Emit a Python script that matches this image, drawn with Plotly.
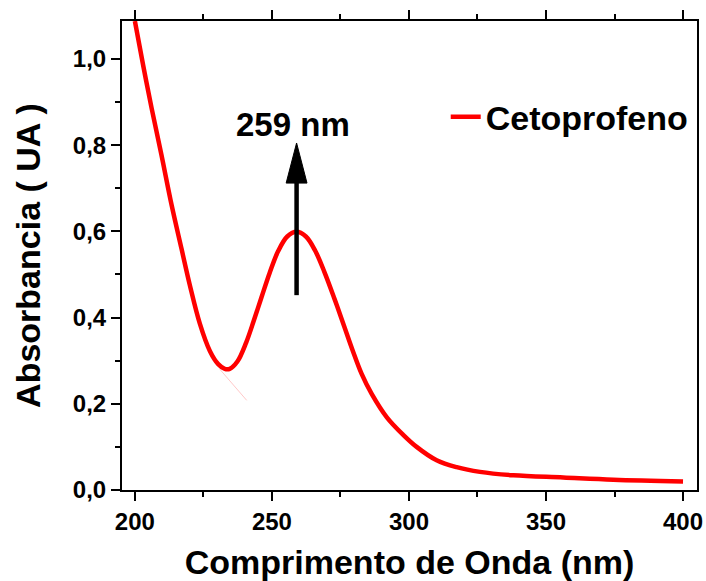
import plotly.graph_objects as go

# UV-Vis absorption spectrum of cetoprofeno
wavelength_nm = [200, 203, 206.1, 209.7, 213.4, 217, 220.1, 223.7, 227.4, 230.4,
                 232.8, 234.6, 237.4, 240.6, 243.4, 246.2, 249.2, 252.2, 255.6, 259,
                 262.4, 265.8, 269.2, 272.8, 276.2, 279.4, 282.7, 286.4, 292, 297.9,
                 302.8, 310.1, 317.4, 325.9, 338.1, 356.3, 374.6, 400]
absorbance = [1.088, 0.986, 0.886, 0.777, 0.661, 0.560, 0.474, 0.386, 0.322, 0.292,
              0.281, 0.281, 0.298, 0.342, 0.393, 0.447, 0.504, 0.553, 0.588, 0.599,
              0.588, 0.555, 0.505, 0.444, 0.383, 0.325, 0.270, 0.223, 0.168, 0.128,
              0.100, 0.069, 0.053, 0.042, 0.034, 0.029, 0.024, 0.020]

# faint stray segment near the local minimum
stray_nm = [231, 240.8]
stray_abs = [0.28, 0.208]

x_ticks = [200, 250, 300, 350, 400]
y_ticks = [0.0, 0.2, 0.4, 0.6, 0.8, 1.0]

peak_nm = 259
peak_label = "259 nm"
arrow_tail = 0.452
arrow_tip = 0.805
head_len = 0.093
head_half = 3.8

FONT = "Arial, Liberation Sans, sans-serif"

fig = go.Figure()
fig.add_trace(go.Scatter(
    x=stray_nm, y=stray_abs, mode="lines",
    line=dict(color="rgba(255,0,0,0.22)", width=1),
    showlegend=False, hoverinfo="skip"))
fig.add_trace(go.Scatter(
    x=wavelength_nm, y=absorbance, mode="lines", name="Cetoprofeno",
    line=dict(color="#ff0000", width=4.5, shape="spline", smoothing=1.0)))

# arrow marking the absorption maximum
fig.add_shape(type="line", xref="x", yref="y",
              x0=peak_nm, x1=peak_nm, y0=arrow_tail, y1=arrow_tip - head_len + 0.01,
              line=dict(color="black", width=4.5))
fig.add_shape(type="path", xref="x", yref="y",
              path=(f"M{peak_nm - head_half},{arrow_tip - head_len} "
                    f"L{peak_nm + head_half},{arrow_tip - head_len} "
                    f"L{peak_nm},{arrow_tip} Z"),
              fillcolor="black", line=dict(color="black", width=1))
fig.add_annotation(x=peak_nm - 1.2, y=0.847, xref="x", yref="y", text=peak_label,
                   showarrow=False,
                   font=dict(family=FONT, size=33, color="black", weight="bold"))

axis_common = dict(
    showgrid=False, zeroline=False, showline=True, linecolor="black", linewidth=2,
    ticks="outside", ticklen=9, tickwidth=2, tickcolor="black",
    tickfont=dict(family=FONT, size=24, color="black", weight="bold"),
)

fig.update_xaxes(
    **axis_common, range=[195.3, 405.1], tickvals=x_ticks, mirror="ticks",
    minor=dict(dtick=25, tick0=0, ticks="outside", ticklen=5, tickwidth=2, tickcolor="black"),
    title=dict(text="Comprimento de Onda (nm)", standoff=22,
               font=dict(family=FONT, size=34, color="black", weight="bold")),
)
fig.update_yaxes(
    **axis_common, range=[0, 1.088], tickvals=y_ticks, tickformat=".1f", mirror=True,
    minor=dict(dtick=0.1, tick0=0, ticks="outside", ticklen=5, tickwidth=2, tickcolor="black"),
    title=dict(text="Absorbancia ( UA )", standoff=22,
               font=dict(family=FONT, size=34, color="black", weight="bold")),
)

fig.update_layout(
    width=706, height=581,
    margin=dict(l=122, r=9, t=21, b=91, autoexpand=False),
    paper_bgcolor="white", plot_bgcolor="white",
    separators=",.",
    legend=dict(x=0.563, y=0.795, xanchor="left", yanchor="middle",
                bgcolor="rgba(0,0,0,0)",
                font=dict(family=FONT, size=34, color="black", weight="bold")),
)

fig.write_html("out.html")
